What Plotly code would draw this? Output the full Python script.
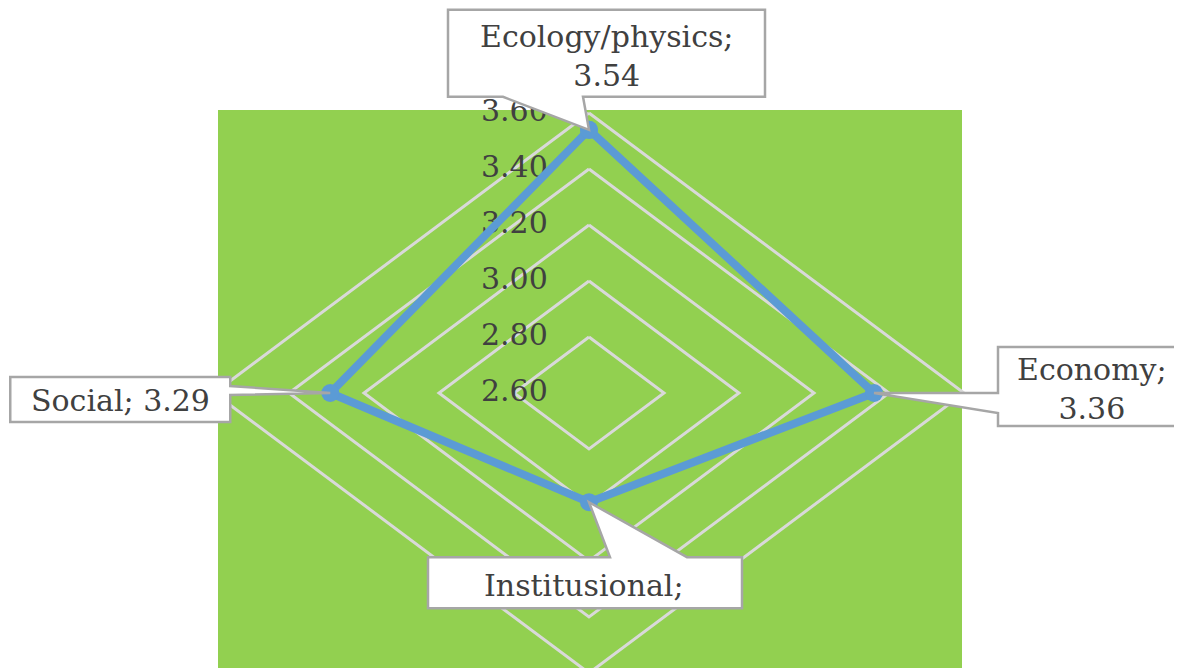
# Radar chart - scores by dimension (diamond grid, Excel-like callouts)
import numpy as np
import plotly.graph_objects as go

# DATA
categories = ["Ecology/physics", "Economy", "Institusional", "Social"]
scores = [3.54, 3.36, 2.99, 3.29]
tick_values = [2.60, 2.80, 3.00, 3.20, 3.40, 3.60]
show_value = [True, True, False, True]      # value of Institusional is cut off in the source
label_sep = ["<br>", "<br>", "<br>", " "]

# GEOMETRY: radar projected onto plain x/y axes (allows the stretched diamond)
r_min = tick_values[0]
angles = np.deg2rad([90, 0, -90, 180])  # clockwise from top


def project(vals):
    r = np.asarray(vals, dtype=float) - r_min
    return r * np.cos(angles), r * np.sin(angles)


FONT = "DejaVu Serif"
TEXT_COLOR = "#404040"
GREEN = "#92D050"
GRID = "#D9D9D9"
BLUE = "#5B9BD5"

# page body adds an 8px margin, so the figure is 8px smaller and offset
W, H = 1174, 660
CX, CY = 581, 385          # centre of the radar in figure pixels
SX, SY = 375, 280          # pixels per unit of score (horizontal, vertical)

fig = go.Figure()

# grid diamonds
for t in tick_values[1:]:
    gx, gy = project([t] * 4)
    fig.add_trace(go.Scatter(
        x=list(gx) + [gx[0]], y=list(gy) + [gy[0]],
        mode="lines", line=dict(color=GRID, width=3),
        hoverinfo="skip", showlegend=False
    ))

# tick labels along the vertical axis
fig.add_trace(go.Scatter(
    x=[-0.11] * len(tick_values),
    y=[t - r_min for t in tick_values],
    mode="text", text=[f"{t:.2f}" for t in tick_values],
    textposition="middle left",
    textfont=dict(family=FONT, size=30, color=TEXT_COLOR),
    hoverinfo="skip", showlegend=False
))

# series
px_, py_ = project(scores)
fig.add_trace(go.Scatter(
    x=list(px_) + [px_[0]], y=list(py_) + [py_[0]],
    mode="lines+markers",
    line=dict(color=BLUE, width=8),
    marker=dict(color=BLUE, size=18),
    showlegend=False
))

# callout outlines (pixel offsets from each point) and text offsets
callouts = {
    "Ecology/physics": dict(pts=[(-141, 33), (-86, 33), (0, 0), (-6, 33), (176, 33), (176, 120), (-141, 120)],
                            shift=(17, 74)),
    "Economy": dict(pts=[(124, 46), (330, 46), (330, -33), (124, -33), (124, -20), (0, 0), (124, 0)],
                    shift=(218, 4)),
    "Institusional": dict(pts=[(-161, -55), (21, -55), (0, 0), (98, -55), (153, -55), (153, -106), (-161, -106)],
                          shift=(-5, -83)),
    "Social": dict(pts=[(-320, 16), (-100, 16), (-100, 7), (0, 0), (-100, -2), (-100, -29), (-320, -29)],
                   shift=(-210, -7)),
}

for i, cat in enumerate(categories):
    c = callouts[cat]
    path = "M " + " L ".join(f"{dx},{dy}" for dx, dy in c["pts"]) + " Z"
    fig.add_shape(
        type="path", path=path,
        xref="x", yref="y", xsizemode="pixel", ysizemode="pixel",
        xanchor=px_[i], yanchor=py_[i],
        fillcolor="white", line=dict(color="#A6A6A6", width=2.5), layer="above"
    )
    text = f"{cat};" + (f"{label_sep[i]}{scores[i]:.2f}" if show_value[i] else "")
    fig.add_annotation(
        x=px_[i], y=py_[i], text=text, showarrow=False,
        xshift=c["shift"][0], yshift=c["shift"][1],
        font=dict(family=FONT, size=30, color=TEXT_COLOR), align="center"
    )

# green plot area
fig.add_shape(type="rect", xref="paper", yref="paper",
              x0=210 / W, x1=954 / W, y0=-0.05, y1=1 - 102 / H,
              fillcolor=GREEN, line=dict(width=0), layer="below")

fig.update_layout(
    width=W, height=H,
    margin=dict(l=0, r=0, t=0, b=0),
    paper_bgcolor="white", plot_bgcolor="white",
    xaxis=dict(range=[-CX / SX, (W - CX) / SX], visible=False, fixedrange=True),
    yaxis=dict(range=[-(H - CY) / SY, CY / SY], visible=False, fixedrange=True),
)

fig.write_html("out.html")
